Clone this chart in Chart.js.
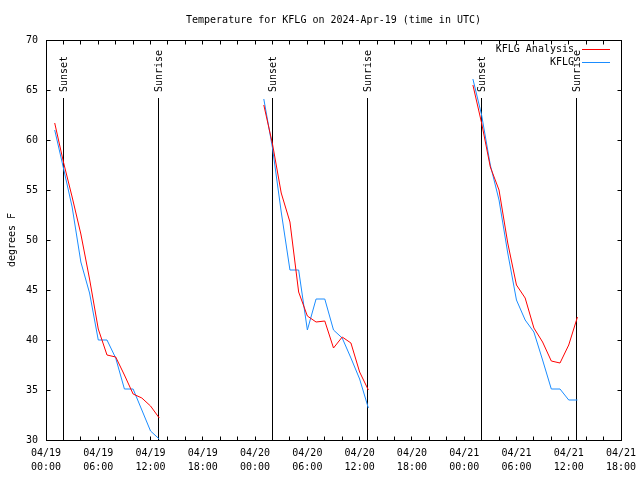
<!DOCTYPE html>
<html>
<head>
<meta charset="utf-8">
<script src="https://cdn.jsdelivr.net/npm/chart.js@4/dist/chart.umd.min.js"></script>
<style>
  html, body { margin: 0; padding: 0; background: #ffffff; }
  #wrap { width: 640px; height: 480px; }
</style>
</head>
<body>
<div id="wrap"><canvas id="c" width="640" height="480"></canvas></div>
<script>
// Hours since 2024-04-19 00:00 UTC
const obsHours = [1,2,3,4,5,6,7,8,9,10,11,12,13,
                  25,26,27,28,29,30,31,32,33,34,35,36,37,
                  49,50,51,52,53,54,55,56,57,58,59,60,61];
const analysisTemps = [61.7,57.8,54.3,50.6,46.1,41.1,38.5,38.3,36.5,34.6,34.2,33.4,32.2,
                       63.5,59.6,54.7,51.8,44.8,42.4,41.8,41.9,39.2,40.3,39.7,36.8,35.0,
                       65.5,61.7,57.3,55.0,49.7,45.5,44.2,41.2,39.8,37.9,37.7,39.5,42.3];
const kflgTemps = [61.0,57.2,53.3,47.8,44.7,40.0,40.0,38.2,35.1,35.1,33.0,30.9,30.1,
                   64.1,59.2,52.8,47.0,47.0,41.0,44.1,44.1,41.0,40.2,38.2,36.1,33.2,
                   66.1,62.5,57.5,54.0,48.7,44.0,42.0,40.8,38.0,35.1,35.1,34.0,34.0];
const sunsetHours = [2.0, 26.0, 50.0];
const sunriseHours = [12.9, 36.9, 60.9];
const xTickLabels = [['04/19','00:00'],['04/19','06:00'],['04/19','12:00'],['04/19','18:00'],
                     ['04/20','00:00'],['04/20','06:00'],['04/20','12:00'],['04/20','18:00'],
                     ['04/21','00:00'],['04/21','06:00'],['04/21','12:00'],['04/21','18:00']];
const seriesNames = ['KFLG Analysis', 'KFLG'];
const titleText = 'Temperature for KFLG on 2024-Apr-19 (time in UTC)';
const yTitle = 'degrees F';

const FONT = '"DejaVu Sans Mono", "Liberation Mono", monospace';

function toPoints(hours, temps) {
  const pts = [];
  for (let i = 0; i < hours.length; i++) {
    if (i > 0 && hours[i] - hours[i - 1] > 2) {
      pts.push({ x: (hours[i] + hours[i - 1]) / 2, y: null });
    }
    pts.push({ x: hours[i], y: temps[i] });
  }
  return pts;
}

const COLORS = ['#ff0000', '#1a8cff'];

const decorPlugin = {
  id: 'decor',
  beforeDatasetsDraw(chart) {
    const ctx = chart.ctx;
    const xs = chart.scales.x;
    const ca = chart.chartArea;
    ctx.save();
    ctx.strokeStyle = '#000';
    ctx.lineWidth = 1;
    ctx.fillStyle = '#000';
    ctx.font = '10px ' + FONT;
    const drawSun = (h, label) => {
      const px = Math.floor(xs.getPixelForValue(h)) + 0.5;
      ctx.beginPath();
      ctx.moveTo(px, 98);
      ctx.lineTo(px, ca.bottom);
      ctx.stroke();
      ctx.save();
      ctx.translate(px + 1, 92);
      ctx.rotate(-Math.PI / 2);
      ctx.textAlign = 'left';
      ctx.textBaseline = 'middle';
      ctx.fillText(label, 0, 0);
      ctx.restore();
    };
    sunsetHours.forEach(h => drawSun(h, 'Sunset'));
    sunriseHours.forEach(h => drawSun(h, 'Sunrise'));
    ctx.restore();
  },
  afterDatasetsDraw(chart) {
    const ctx = chart.ctx;
    const xs = chart.scales.x, ys = chart.scales.y;
    const ca = chart.chartArea;
    const L = Math.floor(ca.left) + 0.5, R = Math.floor(ca.right) + 0.5;
    const T = Math.floor(ca.top) + 0.5, B = Math.floor(ca.bottom) + 0.5;
    ctx.save();
    ctx.strokeStyle = '#000';
    ctx.lineWidth = 1;
    ctx.strokeRect(L, T, R - L, B - T);
    ctx.beginPath();
    xs.ticks.forEach(t => {
      if (t.value <= xs.min || t.value >= xs.max) return;
      const px = Math.floor(xs.getPixelForValue(t.value)) + 0.5;
      ctx.moveTo(px, B); ctx.lineTo(px, B - 4);
      ctx.moveTo(px, T); ctx.lineTo(px, T + 4);
    });
    ys.ticks.forEach(t => {
      if (t.value <= ys.min || t.value >= ys.max) return;
      const py = Math.floor(ys.getPixelForValue(t.value)) + 0.5;
      ctx.moveTo(L, py); ctx.lineTo(L + 4, py);
      ctx.moveTo(R, py); ctx.lineTo(R - 4, py);
    });
    ctx.stroke();
    // legend
    ctx.font = '10px ' + FONT;
    ctx.textAlign = 'right';
    ctx.textBaseline = 'middle';
    ctx.fillStyle = '#000';
    chart.data.datasets.forEach((ds, i) => {
      const y = 49.5 + i * 13;
      ctx.fillText(ds.label, 574, y);
      ctx.strokeStyle = ds.borderColor;
      ctx.beginPath();
      ctx.moveTo(582, y);
      ctx.lineTo(610, y);
      ctx.stroke();
    });
    ctx.restore();
  }
};

Chart.defaults.color = '#000';
Chart.defaults.font.family = FONT;
Chart.defaults.font.size = 10;

new Chart(document.getElementById('c'), {
  type: 'line',
  data: {
    datasets: [
      { label: seriesNames[0], data: toPoints(obsHours, analysisTemps),
        borderColor: COLORS[0], backgroundColor: COLORS[0], borderWidth: 1,
        pointRadius: 0, tension: 0, spanGaps: false },
      { label: seriesNames[1], data: toPoints(obsHours, kflgTemps),
        borderColor: COLORS[1], backgroundColor: COLORS[1], borderWidth: 1,
        pointRadius: 0, tension: 0, spanGaps: false }
    ]
  },
  options: {
    responsive: false,
    animation: false,
    events: [],
    layout: { padding: { left: 0, right: 19, top: 0, bottom: 0 } },
    plugins: {
      legend: { display: false },
      tooltip: { enabled: false },
      title: {
        display: true, text: titleText, fullSize: false,
        font: { size: 10, weight: 'normal', family: FONT, lineHeight: 1.2 },
        padding: { top: 14, bottom: 14 }, color: '#000'
      }
    },
    scales: {
      x: {
        type: 'linear', min: 0, max: 66,
        grid: { display: false, drawTicks: false },
        border: { display: false },
        ticks: {
          stepSize: 2, autoSkip: false, maxRotation: 0, minRotation: 0,
          padding: 7,
          font: { size: 10, family: FONT, lineHeight: 1.35 },
          callback: (v) => (v % 6 === 0 ? xTickLabels[v / 6] : '')
        },
        afterFit: (s) => { s.height = 40; s.paddingLeft = 0; s.paddingRight = 0; }
      },
      y: {
        type: 'linear', min: 30, max: 70,
        grid: { display: false, drawTicks: false },
        border: { display: false },
        ticks: { stepSize: 5, padding: 8, font: { size: 10, family: FONT } },
        title: { display: true, text: yTitle, font: { size: 10, family: FONT, lineHeight: 1.2 },
                 padding: { top: 6, bottom: 0 }, color: '#000' },
        afterFit: (s) => { s.width = 46; }
      }
    }
  },
  plugins: [decorPlugin]
});
</script>
</body>
</html>
